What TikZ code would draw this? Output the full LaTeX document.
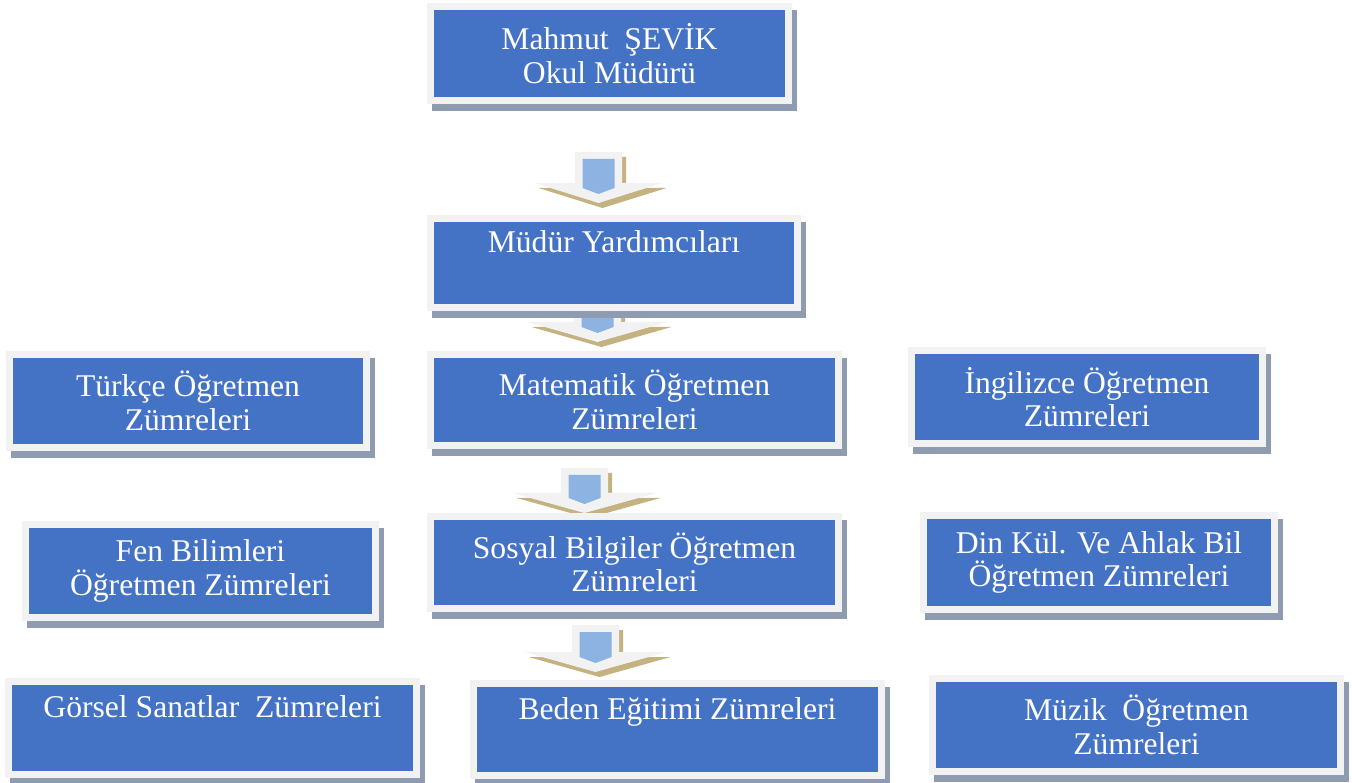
\documentclass[tikz,border=0pt]{standalone}
\usepackage{fontspec}
\setmainfont{Liberation Serif}
\usetikzlibrary{shadows}

\definecolor{boxblue}{HTML}{4472C4}
\definecolor{framegray}{HTML}{F2F2F2}
\definecolor{shadowgray}{HTML}{8F9BB1}
\definecolor{shaftblue}{HTML}{8DB3E2}
\definecolor{arrowtan}{HTML}{C4B280}

% block arrow: centre x, shaft top, head top, half head width
\newcommand{\blockarrow}[4]{%
  \fill[arrowtan, shift={(4,5)}] (#1-23.5,#2) -- (#1+23.5,#2) -- (#1+23.5,#3) -- (#1+#4,#3)
      -- (#1,#3+20) -- (#1-#4,#3) -- (#1-23.5,#3) -- cycle;
  \fill[framegray] (#1-23.5,#2) -- (#1+23.5,#2) -- (#1+23.5,#3) -- (#1+#4,#3)
      -- (#1,#3+20) -- (#1-#4,#3) -- (#1-23.5,#3) -- cycle;
  \fill[shaftblue] (#1-16,#2+7) -- (#1+16,#2+7) -- (#1+16,#3+5) -- (#1,#3+11) -- (#1-16,#3+5) -- cycle;
}

\begin{document}
\begin{tikzpicture}[
            x=0.02cm,
            y=-0.02cm,
            zbox/.style={fill=boxblue, draw=framegray, line width=0.14cm, text=white,
                align=center, inner sep=0pt, font=\fontsize{18}{19}\selectfont,
                drop shadow={shadow xshift=0.1cm, shadow yshift=-0.14cm, opacity=1,
                    fill=shadowgray, draw=shadowgray, line width=0.14cm}},
        ]
        \useasboundingbox (0,0) rectangle (1352,783);
        % arrows down the middle column
        \blockarrow{598.5}{152}{183}{64}
        \blockarrow{597.5}{300}{322}{70}
        \blockarrow{584.5}{468}{493}{72}
        \blockarrow{595.5}{625}{652}{71}
        % top
        \node[zbox, minimum width=7.16cm, minimum height=1.88cm] (mudur) at (609.5,53.5) {Mahmut\ \ ŞEVİK\\Okul Müdürü};
        \node[zbox, minimum width=7.34cm, minimum height=1.78cm] (yard) at (614,263) {Müdür Yardımcıları\strut\\\strut};
        % row 1
        \node[zbox, minimum width=7.14cm, minimum height=1.86cm] (turkce) at (188,401) {Türkçe Öğretmen\\Zümreleri};
        \node[zbox, minimum width=8.16cm, minimum height=1.82cm] (mat) at (634.5,400) {Matematik Öğretmen\\Zümreleri};
        \node[zbox, minimum width=7.02cm, minimum height=1.86cm] (ing) at (1087,397) {İngilizce Öğretmen\\Zümreleri};
        % row 2
        \node[zbox, minimum width=7.00cm, minimum height=1.86cm] (fen) at (200.5,571) {Fen Bilimleri\\Öğretmen Zümreleri};
        \node[zbox, minimum width=8.16cm, minimum height=1.84cm] (sosyal) at (634.5,562.5) {Sosyal Bilgiler Öğretmen\\Zümreleri};
        \node[zbox, minimum width=7.02cm, minimum height=1.88cm] (din) at (1099,562.5) {Din Kül. Ve Ahlak Bil\\Öğretmen Zümreleri};
        % row 3
        \node[zbox, minimum width=8.16cm, minimum height=1.86cm] (gorsel) at (212.5,728) {Görsel Sanatlar\ \ Zümreleri\strut\\\strut};
        \node[zbox, minimum width=8.16cm, minimum height=1.84cm] (beden) at (677.5,729.5) {Beden Eğitimi Zümreleri\strut\\\strut};
        \node[zbox, minimum width=8.16cm, minimum height=1.86cm] (muzik) at (1136.5,725) {Müzik\ \ Öğretmen\\Zümreleri};
\end{tikzpicture}
\end{document}
